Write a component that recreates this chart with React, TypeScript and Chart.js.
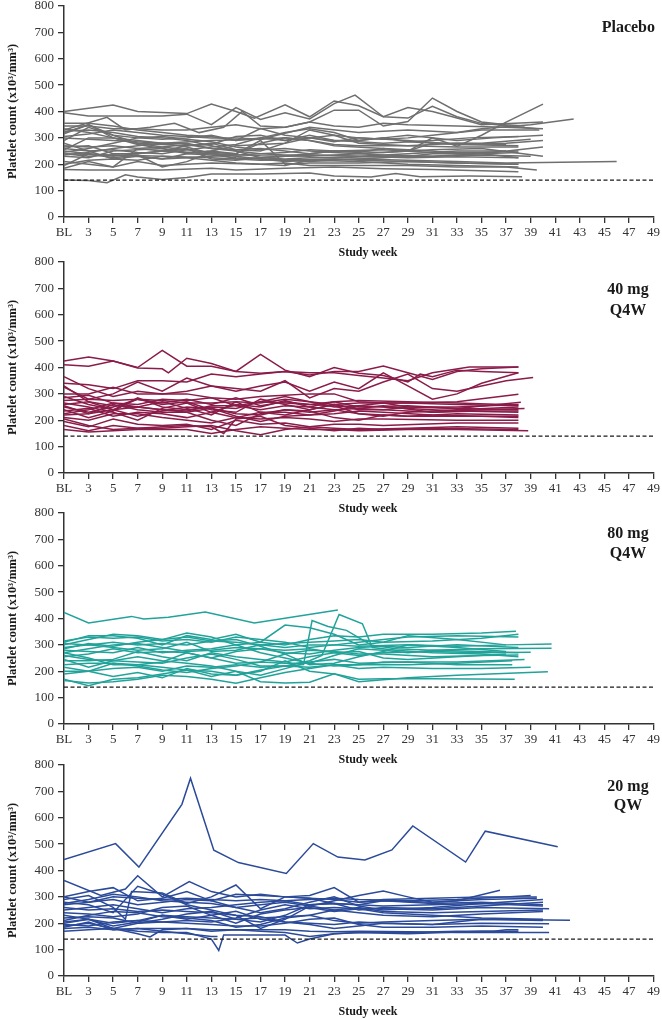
import { useEffect, useRef } from 'react';
import { Chart, registerables } from 'chart.js';

Chart.register(...registerables);

type Pt = [number, number];

// x = study week (1 = baseline), y = platelet count (x10^3/mm^3)
const placeboSubjects: Pt[][] = [
  [[1,400],[5,425],[7,400],[11,392],[13,428],[15,400],[16.5,375],[19,425],[21,380],[23,440],[25,422],[27,380],[29,375],[31,420],[33,380],[35,355],[39.5,335]],
  [[1,395],[3,383],[9,383],[11,390],[13,350],[15,415],[17,370],[19,395],[21,372],[23,430],[24.7,462],[27,380],[29,415],[31,400],[33,375],[35,350],[40,360]],
  [[1,330],[4.5,378],[6,330],[8,340],[10,355],[12,320],[14,340],[15.5,400],[17,345],[19,340],[21,360],[23,405],[25,405],[27,345],[29,362],[31,451],[33,400],[35,360],[37,350],[38.5,345]],
  [[1,250],[5,230],[9,250],[13,240],[17,232],[21,230],[25,240],[29,250],[31,300],[33,268],[35,310],[37,360],[40,428]],
  [[1,300],[5,290],[9,280],[13,290],[17,295],[21,340],[25,320],[29,330],[33,320],[35,335],[39,350],[42.5,372]],
  [[1,240],[5,235],[9,230],[13,225],[17,215],[21,218],[25,220],[29,215],[33,210],[37,205],[46,210]],
  [[1,140],[3,138],[4.5,130],[6,160],[7,152],[9,142],[11,150],[13,163],[17,163],[21,167],[23,155],[26,152],[28,165],[30,153],[34,155],[38.3,153]],
  [[1,180],[3,178],[5,178],[9,178],[13,185],[15,178],[19,185],[23,190],[27,183],[31,180],[35,175],[38,172]],
  [[1,185],[3,210],[5,190],[7,210],[9,195],[13,205],[17,200],[19,195],[21,215],[25,210],[29,200],[33,195],[38,190]],
  [[1,195],[3,240],[5,225],[7,235],[9,190],[11,210],[13,245],[15,240],[17,290],[19,200],[21,205],[25,205],[29,210],[33,205],[38,200]],
  [[1,210],[3,200],[5,190],[7,260],[9,250],[11,270],[13,280],[15,255],[17,250],[19,280],[21,330],[23,310],[25,280],[29,270],[33,265],[38,265]],
  [[1,235],[3,245],[5,260],[7,270],[9,280],[11,280],[13,260],[15,250],[17,225],[19,220],[21,225],[23,225],[27,230],[31,230],[35,235],[39,230]],
  [[1,245],[3,260],[5,280],[7,300],[9,305],[11,295],[13,285],[15,265],[17,255],[19,260],[21,250],[23,245],[27,235],[31,230],[35,240],[38,245]],
  [[1,255],[3,300],[5,300],[7,280],[9,275],[11,270],[13,275],[15,305],[17,310],[19,290],[21,300],[23,310],[25,300],[29,290],[33,275],[38,270]],
  [[1,265],[3,270],[5,240],[7,240],[9,250],[11,260],[13,220],[15,215],[17,225],[19,230],[21,235],[25,230],[29,240],[33,250],[37,250]],
  [[1,280],[3,250],[5,220],[7,230],[9,220],[11,240],[13,250],[15,240],[17,280],[19,300],[21,290],[23,270],[27,260],[31,250],[33,240],[36,245],[40,265]],
  [[1,290],[3,340],[5,310],[7,300],[9,295],[11,300],[13,310],[15,290],[17,300],[19,320],[21,335],[23,320],[25,290],[27,300],[29,285],[33,275],[37,280],[40,290]],
  [[1,305],[3,315],[5,330],[7,320],[9,310],[11,305],[13,300],[15,300],[17,295],[19,300],[21,290],[23,275],[25,270],[29,270],[33,280],[37,275]],
  [[1,315],[3,350],[5,300],[7,290],[9,280],[11,265],[13,240],[15,230],[17,220],[19,210],[21,215],[23,220],[25,215],[29,210],[33,205],[38,200]],
  [[1,325],[3,330],[5,320],[7,305],[9,300],[11,290],[13,270],[15,250],[17,240],[19,235],[21,235],[25,230],[29,225],[33,228],[38,225]],
  [[1,335],[3,320],[5,300],[7,275],[9,260],[11,245],[13,250],[15,270],[17,275],[19,280],[21,300],[23,285],[25,300],[27,295],[29,300],[31,310],[35,330],[39.7,330]],
  [[1,345],[3,345],[5,335],[7,335],[9,330],[11,330],[13,340],[15,350],[17,335],[19,340],[21,360],[23,345],[25,340],[27,355],[29,350],[33,345],[37,340],[40,335]],
  [[1,355],[3,355],[5,345],[7,330],[9,320],[11,310],[13,305],[15,290],[17,335],[19,310],[21,300],[23,290],[25,290],[27,300],[29,310],[33,290],[36,300],[40,310]],
  [[1,320],[3,350],[5,310],[7,280],[9,265],[11,255],[13,245],[15,220],[17,225],[19,230],[21,240],[23,250],[25,245],[27,260],[29,250],[31,280],[35,280],[39,295]],
  [[1,230],[3,225],[5,250],[7,255],[9,260],[11,240],[13,235],[15,225],[17,220],[19,215],[21,210],[23,215],[25,220],[27,225],[29,230],[31,240],[35,240],[38,225]],
  [[1,200],[3,215],[5,220],[7,215],[9,230],[11,225],[13,215],[15,205],[17,200],[19,205],[21,195],[23,195],[25,195],[29,195],[33,190],[37,190],[39.5,178]],
  [[1,270],[3,265],[5,270],[7,260],[9,265],[11,275],[13,260],[15,255],[17,260],[19,250],[21,240],[23,250],[27,245],[31,255],[35,260],[40,230]],
  [[1,240],[3,230],[5,235],[7,230],[9,220],[11,225],[13,230],[15,235],[17,240],[19,245],[21,255],[23,250],[27,255],[31,245],[35,245],[38,250]],
  [[1,260],[3,250],[5,255],[7,245],[9,240],[11,255],[13,265],[15,275],[17,300],[19,290],[21,310],[23,290],[25,285],[27,280],[31,290],[34,300],[38,305]],
];

const q4w40Subjects: Pt[][] = [
  [[1,425],[3,440],[5,425],[7,398],[9,395],[9.5,380],[11,435],[13,415],[15,385],[17,378],[19,385],[21,372],[23,385],[25,385],[27,406],[29,380],[31,355],[33,385],[35,395],[38,402]],
  [[1,410],[3,405],[5,425],[7,400],[9,465],[11,405],[13,405],[15,385],[17,450],[19,390],[21,365],[23,400],[25,378],[27,370],[29,345],[30,375],[31,365],[33,390],[35,385],[38,380]],
  [[1,365],[3,320],[5,290],[7,310],[9,300],[11,310],[13,330],[15,320],[17,310],[19,350],[21,285],[23,320],[25,310],[27,345],[29,375],[31,320],[33,310],[37,350],[39.2,362]],
  [[1,340],[3,335],[5,320],[7,350],[9,350],[11,345],[13,375],[15,365],[17,375],[19,385],[21,380],[23,380],[25,370],[27,360],[29,350],[31,380],[34,402],[38,402]],
  [[1,325],[3,280],[5,300],[7,345],[9,310],[11,360],[13,330],[15,310],[17,330],[19,345],[21,310],[23,345],[25,320],[27,380],[29,330],[31,280],[33,300],[35,340],[38,380]],
  [[1,300],[3,300],[5,325],[7,300],[9,300],[11,300],[13,285],[15,280],[17,290],[19,295],[21,300],[23,300],[25,270],[27,265],[29,265],[33,270],[38,299]],
  [[1,290],[3,260],[5,240],[7,280],[9,260],[11,270],[13,240],[15,230],[17,280],[19,260],[21,240],[23,260],[25,240],[27,240],[29,250],[33,250],[38,260]],
  [[1,275],[3,280],[5,275],[7,280],[9,275],[11,265],[13,265],[15,270],[17,265],[19,280],[21,270],[23,260],[25,265],[29,265],[33,260],[38,255]],
  [[1,265],[3,250],[5,230],[7,200],[9,245],[11,265],[13,230],[15,260],[17,250],[19,275],[21,250],[23,240],[25,245],[27,255],[31,230],[35,240],[38.5,245]],
  [[1,260],[3,270],[5,255],[7,250],[9,270],[11,245],[13,220],[15,270],[17,230],[19,230],[21,220],[23,235],[25,255],[27,265],[29,250],[33,245],[38,240]],
  [[1,250],[3,230],[5,250],[7,280],[9,265],[11,280],[13,260],[15,285],[17,255],[19,270],[21,260],[23,255],[25,225],[27,215],[29,230],[33,240],[38,250]],
  [[1,240],[3,210],[5,235],[7,285],[9,250],[11,240],[13,250],[15,245],[17,270],[19,290],[21,270],[23,250],[25,255],[29,245],[33,235],[38,230]],
  [[1,235],[3,245],[5,215],[7,230],[9,225],[11,210],[13,230],[15,210],[17,230],[19,220],[21,240],[23,260],[25,245],[27,240],[31,230],[35,235],[38,235]],
  [[1,225],[3,240],[5,265],[7,250],[9,240],[11,230],[13,200],[15,180],[17,225],[19,240],[21,235],[23,210],[25,200],[27,220],[29,215],[33,225],[38,220]],
  [[1,220],[3,225],[5,240],[7,215],[9,235],[11,250],[13,245],[15,215],[17,195],[19,215],[21,220],[23,225],[25,235],[27,230],[31,220],[35,215],[38,210]],
  [[1,210],[3,200],[5,225],[7,225],[9,210],[11,200],[13,190],[15,210],[17,205],[19,210],[21,205],[23,195],[25,205],[27,205],[33,200],[38,200]],
  [[1,195],[3,175],[5,205],[7,185],[9,180],[11,185],[13,165],[15,200],[17,185],[19,190],[21,175],[23,185],[25,185],[27,180],[33,190],[38,190]],
  [[1,180],[3,160],[5,180],[7,170],[9,170],[11,175],[13,180],[15,160],[17,145],[19,165],[21,175],[23,170],[25,165],[29,170],[33,175],[38,170]],
  [[1,165],[3,155],[5,160],[7,165],[9,165],[11,165],[13,150],[15,165],[17,175],[19,170],[21,165],[23,165],[25,160],[29,165],[33,165],[38.8,160]],
  [[1,205],[3,180],[5,165],[7,170],[9,175],[11,180],[13,175],[14,150],[15,205],[17,215],[19,180],[21,170],[23,160],[25,170],[27,165],[31,170],[38,165]],
  [[1,255],[3,225],[5,260],[7,240],[9,230],[11,230],[13,245],[15,225],[17,220],[19,240],[21,230],[23,240],[25,225],[29,215],[33,215],[38,215]],
  [[1,285],[3,295],[5,265],[7,260],[9,280],[11,275],[13,285],[15,255],[17,270],[19,265],[21,260],[23,270],[25,275],[29,270],[33,265],[38,258]],
  [[1,330],[3,270],[5,240],[7,250],[9,240],[11,235],[13,255],[15,255],[17,240],[19,255],[21,250],[23,270],[25,250],[29,255],[33,245],[38.2,268]],
];

const q4w80Subjects: Pt[][] = [
  [[1,423],[3,383],[6.5,408],[7.5,398],[9.5,405],[12.5,425],[16.5,383],[23.3,432]],
  [[1,170],[3,145],[5,170],[7,175],[9,190],[11,205],[13,180],[15,200],[17,160],[19,155],[21,158],[23,190],[25,170],[27,172],[31,172],[37.7,170]],
  [[1,200],[3,200],[5,180],[7,195],[9,175],[11,210],[13,190],[15,185],[17,200],[19,240],[21,200],[23,190],[25,160],[29,175],[33,185],[40.4,198]],
  [[1,165],[3,155],[5,160],[7,170],[9,185],[11,180],[13,170],[15,155],[17,175],[19,195],[21,210],[23,225],[25,210],[27,215],[31,210],[35,210],[39,215]],
  [[1,245],[3,215],[5,240],[7,255],[9,240],[11,230],[13,220],[15,200],[17,185],[19,210],[21,235],[23,245],[25,230],[29,235],[33,225],[37.5,225]],
  [[1,260],[3,245],[5,240],[7,235],[9,230],[11,250],[13,265],[15,245],[17,220],[19,220],[20.5,225],[21.2,392],[22.5,370],[24,355],[26,300],[28,285],[31,280],[35,275],[38,270]],
  [[1,270],[3,250],[5,225],[7,225],[9,215],[11,205],[13,200],[15,185],[17,205],[19,220],[21,240],[22,260],[23.4,415],[25.3,380],[26.1,290],[28,280],[31,270],[35,265],[38,255]],
  [[1,285],[3,305],[5,295],[7,310],[9,320],[11,330],[13,315],[15,320],[17,295],[19,265],[21,225],[23,230],[25,255],[27,275],[29,300],[33,290],[37,275]],
  [[1,300],[3,320],[5,340],[7,335],[9,320],[11,345],[13,330],[15,300],[17,310],[19,375],[21,365],[23,340],[25,300],[27,310],[29,335],[33,320],[37,300]],
  [[1,310],[3,335],[5,335],[7,325],[9,300],[11,335],[13,320],[15,340],[17,310],[19,300],[21,320],[23,335],[25,330],[27,340],[31,340],[35,345],[37.8,352]],
  [[1,305],[3,300],[5,310],[7,300],[9,305],[11,300],[13,315],[15,310],[17,300],[19,305],[21,310],[23,315],[25,320],[27,310],[31,315],[35,325],[38,340]],
  [[1,290],[3,300],[5,290],[7,280],[9,285],[11,310],[13,275],[15,280],[17,300],[19,290],[21,300],[23,300],[25,295],[29,300],[33,295],[37,300],[40.7,303]],
  [[1,280],[3,275],[5,270],[7,290],[9,270],[11,280],[13,285],[15,300],[17,270],[19,250],[21,230],[23,260],[25,285],[27,280],[29,270],[31,280],[35,285],[40.7,287]],
  [[1,255],[3,265],[5,285],[7,270],[9,275],[11,270],[13,250],[15,275],[17,285],[19,270],[21,265],[23,280],[25,290],[27,295],[29,290],[33,300],[38,290]],
  [[1,240],[3,240],[5,245],[7,275],[9,255],[11,240],[13,270],[15,255],[17,245],[19,235],[21,255],[23,270],[25,275],[27,250],[29,245],[33,255],[37,265]],
  [[1,225],[3,230],[5,230],[7,225],[9,235],[11,270],[13,250],[15,230],[17,235],[19,265],[21,280],[23,275],[25,265],[27,265],[31,255],[35,260],[38,262]],
  [[1,215],[3,200],[5,210],[7,215],[9,200],[11,220],[13,215],[15,225],[17,215],[19,220],[21,215],[23,225],[25,225],[29,225],[33,230],[37.5,240]],
  [[1,190],[3,200],[5,230],[7,220],[9,205],[11,195],[13,210],[15,220],[17,235],[19,230],[21,230],[23,220],[25,225],[27,235],[33,235],[38.5,245]],
  [[1,315],[3,330],[5,325],[7,330],[9,315],[11,320],[13,310],[15,330],[17,320],[19,310],[21,290],[23,300],[25,310],[27,320],[29,330],[33,335],[38,330]],
  [[1,270],[3,285],[5,300],[7,305],[9,290],[11,275],[13,280],[15,290],[17,285],[19,280],[21,285],[23,270],[25,260],[27,270],[31,275],[35,270],[39,272]],
];

const qw20Subjects: Pt[][] = [
  [[1,442],[5.2,502],[7.1,413],[10.6,651],[11.3,750],[13.2,477],[15.2,430],[19.1,389],[21.3,502],[23.3,451],[25.5,440],[27.7,478],[29.4,569],[33.7,432],[35.3,549],[41.2,490]],
  [[1,362],[4,305],[6,330],[7,380],[9,300],[11.2,358],[13,320],[15,300],[17,310],[19,300],[21,295],[23,290],[25,280],[27,285],[31,275],[35,280],[40,270]],
  [[1,300],[3,320],[5,335],[7,285],[9,295],[11,320],[13,285],[15,260],[17,240],[19,255],[21,280],[23,300],[25,265],[27,250],[31,260],[35,275],[40,290]],
  [[1,290],[3,305],[5,260],[6,215],[6.5,320],[9,315],[11,275],[13,300],[15,345],[17,255],[19,300],[21,305],[23,335],[25,280],[27,290],[31,295],[35,300],[39.5,300]],
  [[1,280],[3,270],[5,240],[7,340],[9,310],[11,270],[13,250],[15,230],[17,180],[19,215],[21,265],[23,285],[25,305],[27,322],[29,300],[31,280],[33,285],[36.5,325]],
  [[1,270],[3,280],[5,290],[7,270],[9,280],[11,290],[13,285],[15,310],[17,305],[19,300],[21,295],[23,275],[25,250],[27,260],[31,255],[35,265],[40,280]],
  [[1,260],[3,250],[5,255],[7,245],[9,250],[11,245],[13,240],[15,230],[17,225],[19,205],[21,195],[23,180],[25,190],[27,200],[31,195],[35,215],[42.2,211]],
  [[1,250],[3,260],[5,270],[7,255],[9,240],[11,255],[13,260],[15,270],[17,280],[19,285],[21,270],[23,275],[25,270],[27,285],[31,280],[35,290],[39.5,295]],
  [[1,240],[3,235],[5,225],[7,235],[9,260],[11,265],[13,230],[15,200],[17,235],[19,250],[21,260],[23,245],[25,255],[27,255],[31,250],[35,260],[40.5,255]],
  [[1,230],[3,215],[5,200],[7,210],[9,230],[11,225],[13,220],[15,215],[17,220],[19,225],[21,230],[23,250],[25,260],[27,245],[31,240],[35,245],[40,250]],
  [[1,220],[3,225],[5,220],[7,200],[9,205],[11,210],[13,205],[15,220],[17,250],[19,270],[21,255],[23,260],[25,255],[27,240],[31,230],[35,220],[40,215]],
  [[1,210],[3,230],[5,245],[7,240],[9,225],[11,220],[13,210],[15,185],[17,195],[19,220],[21,230],[23,210],[25,200],[27,205],[31,210],[35,215],[40,210]],
  [[1,200],[3,215],[5,190],[7,205],[9,230],[11,215],[13,230],[15,245],[17,215],[19,205],[21,200],[23,195],[25,205],[27,200],[31,195],[35,200],[40.5,198]],
  [[1,195],[3,190],[5,205],[7,210],[9,205],[11,200],[13,195],[15,190],[17,190],[19,200],[21,215],[23,220],[25,195],[27,185],[31,185],[35,190],[40,185]],
  [[1,190],[3,200],[5,180],[7,160],[8,148],[9,175],[11,180],[13,170],[15,175],[17,170],[19,165],[21,150],[23,160],[25,165],[29,160],[35,170],[38,170]],
  [[1,180],[3,185],[5,175],[7,180],[9,180],[11,180],[13,175],[15,175],[17,175],[19,175],[21,170],[23,168],[25,170],[29,168],[33,165],[40.5,165]],
  [[1,170],[3,175],[5,180],[7,170],[9,165],[11,165],[13,140],[13.6,97],[14,155],[17,155],[19,155],[20,125],[21,140],[23,160],[25,165],[29,165],[33,170],[36,170],[37,175],[38,175]],
  [[1,185],[3,205],[5,175],[7,180],[9,170],[11,160],[13,150],[13.5,150]],
  [[1,205],[3,215],[5,180],[7,200],[9,215],[11,235],[13,245],[15,215],[17,205],[19,230],[21,270],[23,275],[25,270],[27,265],[31,270],[35,275],[40,265]],
  [[1,300],[3,280],[5,300],[7,295],[9,290],[11,295],[13,290],[15,285],[17,290],[19,285],[21,290],[23,295],[25,290],[29,285],[33,290],[37,300],[39,305]],
  [[1,275],[3,290],[5,310],[7,300],[9,285],[11,280],[13,275],[15,260],[17,270],[19,280],[21,265],[23,250],[25,240],[27,230],[31,225],[35,235],[40,245]],
];

const panelLabels: string[][] = [['Placebo'], ['40 mg', 'Q4W'], ['80 mg', 'Q4W'], ['20 mg', 'QW']];
const panelColors = ['#6f6f6f', '#8a1c4a', '#22a39a', '#2b4a99'];
const thresholdValue = 140;
const weekMin = 1;
const weekMax = 49;
const baselineLabel = 'BL';
const yMin = 0;
const yMax = 800;
const yStep = 100;
const yTitle = 'Platelet count (x10³/mm³)';
const xTitle = 'Study week';

const SERIF = '"Liberation Serif", "Times New Roman", serif';
const PAD_TOP = 12;
const PLOT_H = 211;
const X_AXIS_H = 44;
const CANVAS_H = PAD_TOP + PLOT_H + X_AXIS_H;

const panelLabelPlugin = {
  id: 'panelLabel',
  afterDraw(chart: any, _args: any, opts: any) {
    const { ctx, chartArea } = chart;
    ctx.save();
    ctx.font = `bold 16px ${SERIF}`;
    ctx.fillStyle = '#1a1a1a';
    ctx.textBaseline = 'middle';
    ctx.textAlign = opts.align;
    (opts.lines as string[]).forEach((t, i) => {
      ctx.fillText(t, opts.x, chartArea.top + opts.ys[i]);
    });
    // x-axis title, placed slightly right of centre as in the source figure
    ctx.font = `bold 12px ${SERIF}`;
    ctx.textAlign = 'center';
    ctx.fillText(opts.xTitle, 368, chartArea.bottom + 36);
    ctx.restore();
  },
};

type PanelProps = {
  subjects: Pt[][];
  color: string;
  lines: string[];
  top: number;
  labelYs: number[];
};

function Panel({ subjects, color, lines, top, labelYs }: PanelProps) {
  const ref = useRef<HTMLCanvasElement | null>(null);
  useEffect(() => {
    if (!ref.current) return;
    const datasets: any[] = subjects.map((s) => ({
      data: s.map(([x, y]) => ({ x, y })),
      borderColor: color,
      borderWidth: 1.5,
      pointRadius: 0,
      fill: false,
      tension: 0,
    }));
    datasets.unshift({
      data: [
        { x: weekMin, y: thresholdValue },
        { x: weekMax, y: thresholdValue },
      ],
      borderColor: '#1a1a1a',
      borderWidth: 1.3,
      borderDash: [4, 2.5],
      pointRadius: 0,
      fill: false,
    });
    const single = lines.length === 1;
    const chart = new Chart(ref.current, {
      type: 'line',
      data: { datasets },
      plugins: [panelLabelPlugin as any],
      options: {
        animation: false,
        responsive: false,
        events: [],
        layout: { padding: { top: PAD_TOP, right: 8, left: 0, bottom: 0 } },
        plugins: {
          legend: { display: false },
          tooltip: { enabled: false },
          panelLabel: {
            lines,
            align: single ? 'right' : 'center',
            x: single ? 655 : 628,
            ys: labelYs,
            xTitle,
          },
        } as any,
        scales: {
          x: {
            type: 'linear',
            min: weekMin,
            max: weekMax,
            afterFit: (s: any) => {
              s.height = X_AXIS_H;
            },
            ticks: {
              stepSize: 2,
              autoSkip: false,
              maxRotation: 0,
              padding: 2,
              color: '#333',
              font: { family: SERIF, size: 13 },
              callback: (v: any) => (v === weekMin ? baselineLabel : String(v)),
            },
            grid: { drawOnChartArea: false, drawTicks: true, tickLength: 6, color: '#333', lineWidth: 1.3 },
            border: { display: true, color: '#333', width: 1.5 },
            title: { display: false },
          },
          y: {
            type: 'linear',
            min: yMin,
            max: yMax,
            afterFit: (s: any) => {
              s.width = 64;
            },
            ticks: {
              stepSize: yStep,
              padding: 4,
              color: '#333',
              font: { family: SERIF, size: 13 },
            },
            grid: { drawOnChartArea: false, drawTicks: true, tickLength: 6, color: '#333', lineWidth: 1.3 },
            border: { display: true, color: '#333', width: 1.5 },
            title: {
              display: true,
              text: yTitle,
              color: '#1a1a1a',
              font: { family: SERIF, size: 12.5, weight: 'bold' },
              padding: { top: 5, bottom: 0 },
            },
          },
        },
      },
    });
    return () => chart.destroy();
  }, [subjects, color, lines, labelYs]);

  return (
    <div style={{ position: 'absolute', left: 0, top, width: 662, height: CANVAS_H }}>
      <canvas ref={ref} width={662} height={CANVAS_H} style={{ width: 662, height: CANVAS_H, display: 'block' }} />
    </div>
  );
}

const allSubjects = [placeboSubjects, q4w40Subjects, q4w80Subjects, qw20Subjects];
const plotTops = [6, 262, 513, 765];
const labelOffsets = [[22], [28, 49], [21, 41], [22, 41]];

export default function App() {
  return (
    <div style={{ position: 'absolute', left: 0, top: 0, width: 662, height: 1019 }}>
      {allSubjects.map((s, i) => (
        <Panel
          key={i}
          subjects={s}
          color={panelColors[i]}
          lines={panelLabels[i]}
          top={plotTops[i] - PAD_TOP}
          labelYs={labelOffsets[i]}
        />
      ))}
    </div>
  );
}
